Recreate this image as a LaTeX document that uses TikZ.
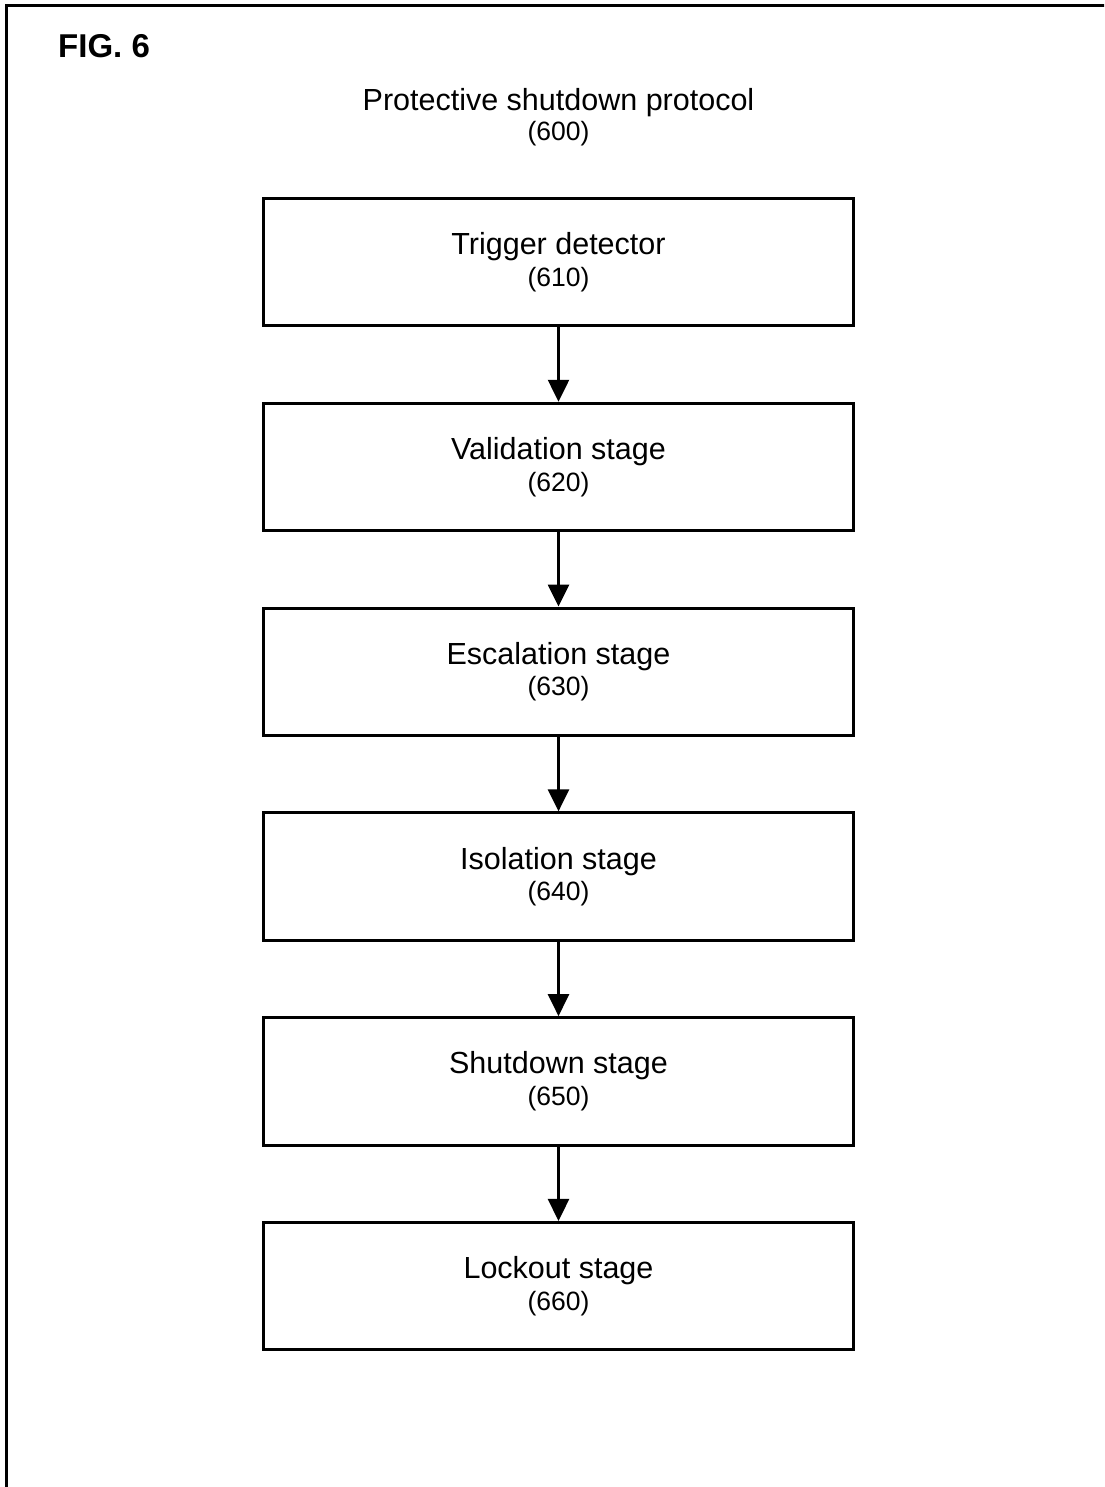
\documentclass[tikz,border=0pt]{standalone}
\usepackage{fontspec}
\setmainfont{Liberation Sans}
\usetikzlibrary{arrows.meta}
\tikzset{
  stagebox/.style={draw=black, line width=3pt, fill=white, minimum width=590pt, minimum height=127.5pt, inner sep=0pt, align=center},
  flowarrow/.style={line width=2.6pt, -{Triangle[width=21pt,length=22pt]}},
}
\newcommand{\mainsz}{\fontsize{30.5}{36}\selectfont}
\newcommand{\numsz}{\fontsize{26.5}{30}\selectfont}
\newcommand{\stagetext}[2]{\mainsz #1\\[5pt]\numsz #2}
\begin{document}
\begin{tikzpicture}[x=1pt,y=-1pt]
\useasboundingbox (0,0) rectangle (1104,1487);
\begin{scope}
\clip (0,0) rectangle (1104,1487);
\draw[line width=3pt] (6,5.5) rectangle (1200,1600);
\end{scope}
\node[anchor=west, font=\bfseries\fontsize{33}{38}\selectfont, inner sep=0pt] (fig) at (58,46) {FIG. 6};
\node[font=\mainsz, inner sep=0pt] (title) at (558.5,103) {Protective shutdown protocol};
\node[font=\numsz, inner sep=0pt] (titlenum) at (558.5,134) {(600)};
\node[stagebox] (s610) at (558.5,262.2) {\stagetext{Trigger detector}{(610)}};
\node[stagebox] (s620) at (558.5,467.0) {\stagetext{Validation stage}{(620)}};
\node[stagebox] (s630) at (558.5,671.8) {\stagetext{Escalation stage}{(630)}};
\node[stagebox] (s640) at (558.5,876.6) {\stagetext{Isolation stage}{(640)}};
\node[stagebox] (s650) at (558.5,1081.4) {\stagetext{Shutdown stage}{(650)}};
\node[stagebox] (s660) at (558.5,1286.2) {\stagetext{Lockout stage}{(660)}};
\draw[flowarrow] (s610.south) -- (s620.north);
\draw[flowarrow] (s620.south) -- (s630.north);
\draw[flowarrow] (s630.south) -- (s640.north);
\draw[flowarrow] (s640.south) -- (s650.north);
\draw[flowarrow] (s650.south) -- (s660.north);
\end{tikzpicture}
\end{document}
